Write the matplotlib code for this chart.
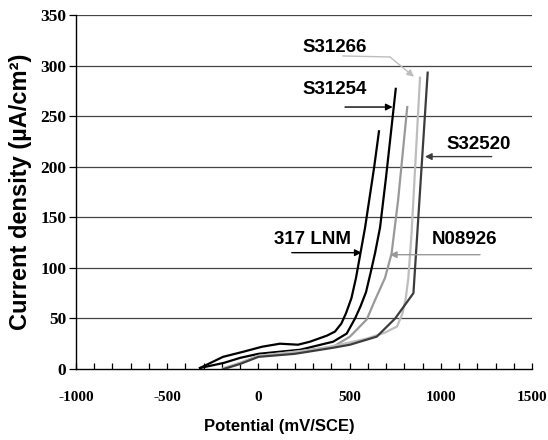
"""Polarisation curves of stainless steels (current density vs potential)."""
import matplotlib.pyplot as plt
import numpy as np

# curve data (mV/SCE, uA/cm2)
lnm317_x = [-320, -194, -84, 20, 118, 217, 283, 376, 420, 455, 480, 510, 535, 560, 585, 610, 635, 661]
lnm317_y = [1, 12, 17, 22, 25, 24, 27, 33, 37, 45, 55, 70, 90, 115, 140, 170, 200, 235]

s31254_x = [-320, -190, -100, 0, 228, 410, 484, 530, 560, 590, 615, 640, 667, 700, 753]
s31254_y = [1, 6, 11, 15, 19, 27, 35, 50, 62, 76, 95, 115, 140, 190, 277]

n08926_x = [-190, -100, 0, 200, 410, 502, 594, 639, 694, 730, 766, 816]
n08926_y = [0, 6, 13, 17, 22, 32, 49, 68, 90, 114, 167, 259]

s31266_x = [-190, -100, 0, 100, 200, 300, 447, 594, 694, 760, 790, 808, 822, 840, 886]
s31266_y = [1, 6, 13, 15, 17, 19, 24, 30, 36, 42, 55, 70, 90, 135, 288]

s32520_x = [-190, -100, 0, 200, 410, 502, 649, 750, 850, 928]
s32520_y = [0, 5, 12, 15, 21, 24, 32, 50, 75, 293]

xticks = [-1000, -500, 0, 500, 1000, 1500]
yticks = [0, 50, 100, 150, 200, 250, 300, 350]

fig = plt.figure(figsize=(5.48, 4.40), dpi=100)
ax = fig.add_axes([0.1387, 0.1614, 0.8321, 0.8045])

for v in yticks[1:]:
    ax.axhline(v, color="#444444", lw=0.9, zorder=1)

lw = 1.6
ax.plot(lnm317_x, lnm317_y, color="black", lw=lw, zorder=3)
ax.plot(s31254_x, s31254_y, color="black", lw=lw, zorder=3)
ax.plot(n08926_x, n08926_y, color="#999999", lw=lw, zorder=3)
ax.plot(s31266_x, s31266_y, color="#bdbdbd", lw=lw, zorder=3)
ax.plot(s32520_x, s32520_y, color="#3c3c3c", lw=lw, zorder=3)

ax.set_xlim(-1000, 1500)
ax.set_ylim(0, 350)
ax.spines["top"].set_visible(False)
ax.spines["right"].set_visible(False)
ax.spines["left"].set_linewidth(1.0)
ax.spines["bottom"].set_linewidth(1.0)

ax.set_xticks(xticks)
ax.set_xticks(np.arange(-1000, 1501, 100), minor=True)
ax.set_xticklabels([str(v) for v in xticks],
                   fontdict=dict(family="Liberation Serif", weight="bold", size=11))
ax.set_yticks(yticks)
ax.set_yticklabels([str(v) for v in yticks],
                   fontdict=dict(family="Liberation Serif", weight="bold", size=12.5))
ax.tick_params(axis="x", which="both", direction="in", length=4, width=0.9, pad=16)
ax.tick_params(axis="y", direction="out", length=5, width=0.9, pad=2)

lab_font = dict(family="Liberation Sans", weight="bold")
ax.set_xlabel("Potential (mV/SCE)", fontsize=12, **lab_font)
ax.xaxis.set_label_coords(0.445, -0.142)
ax.set_ylabel("Current density (µA/cm²)", fontsize=17, labelpad=6, **lab_font)

# labels and arrows
txt = dict(fontsize=13.5, ha="center", va="center", **lab_font)
arrow = dict(arrowstyle="-|>", lw=1.0, mutation_scale=10, shrinkA=0, shrinkB=0)

ax.text(420, 318, "S31266", **txt)
ax.plot([464, 721], [309.5, 308.5], color="#bdbdbd", lw=1.0)
ax.annotate("", xy=(853, 289), xytext=(721, 308.5),
            arrowprops=dict(arrow, color="#bdbdbd"))

ax.text(420, 276, "S31254", **txt)
ax.annotate("", xy=(736, 259), xytext=(475, 259),
            arrowprops=dict(arrow, color="black"))

ax.text(1205, 222, "S32520", **txt)
ax.annotate("", xy=(913, 210), xytext=(1279, 210),
            arrowprops=dict(arrow, color="#3c3c3c"))

ax.text(298, 128, "317 LNM", **txt)
ax.annotate("", xy=(566, 115), xytext=(183, 115),
            arrowprops=dict(arrow, color="black"))

ax.text(1130, 128, "N08926", **txt)
ax.annotate("", xy=(721, 113), xytext=(1215, 113),
            arrowprops=dict(arrow, color="#999999"))

fig.savefig("out.png", dpi=100)
